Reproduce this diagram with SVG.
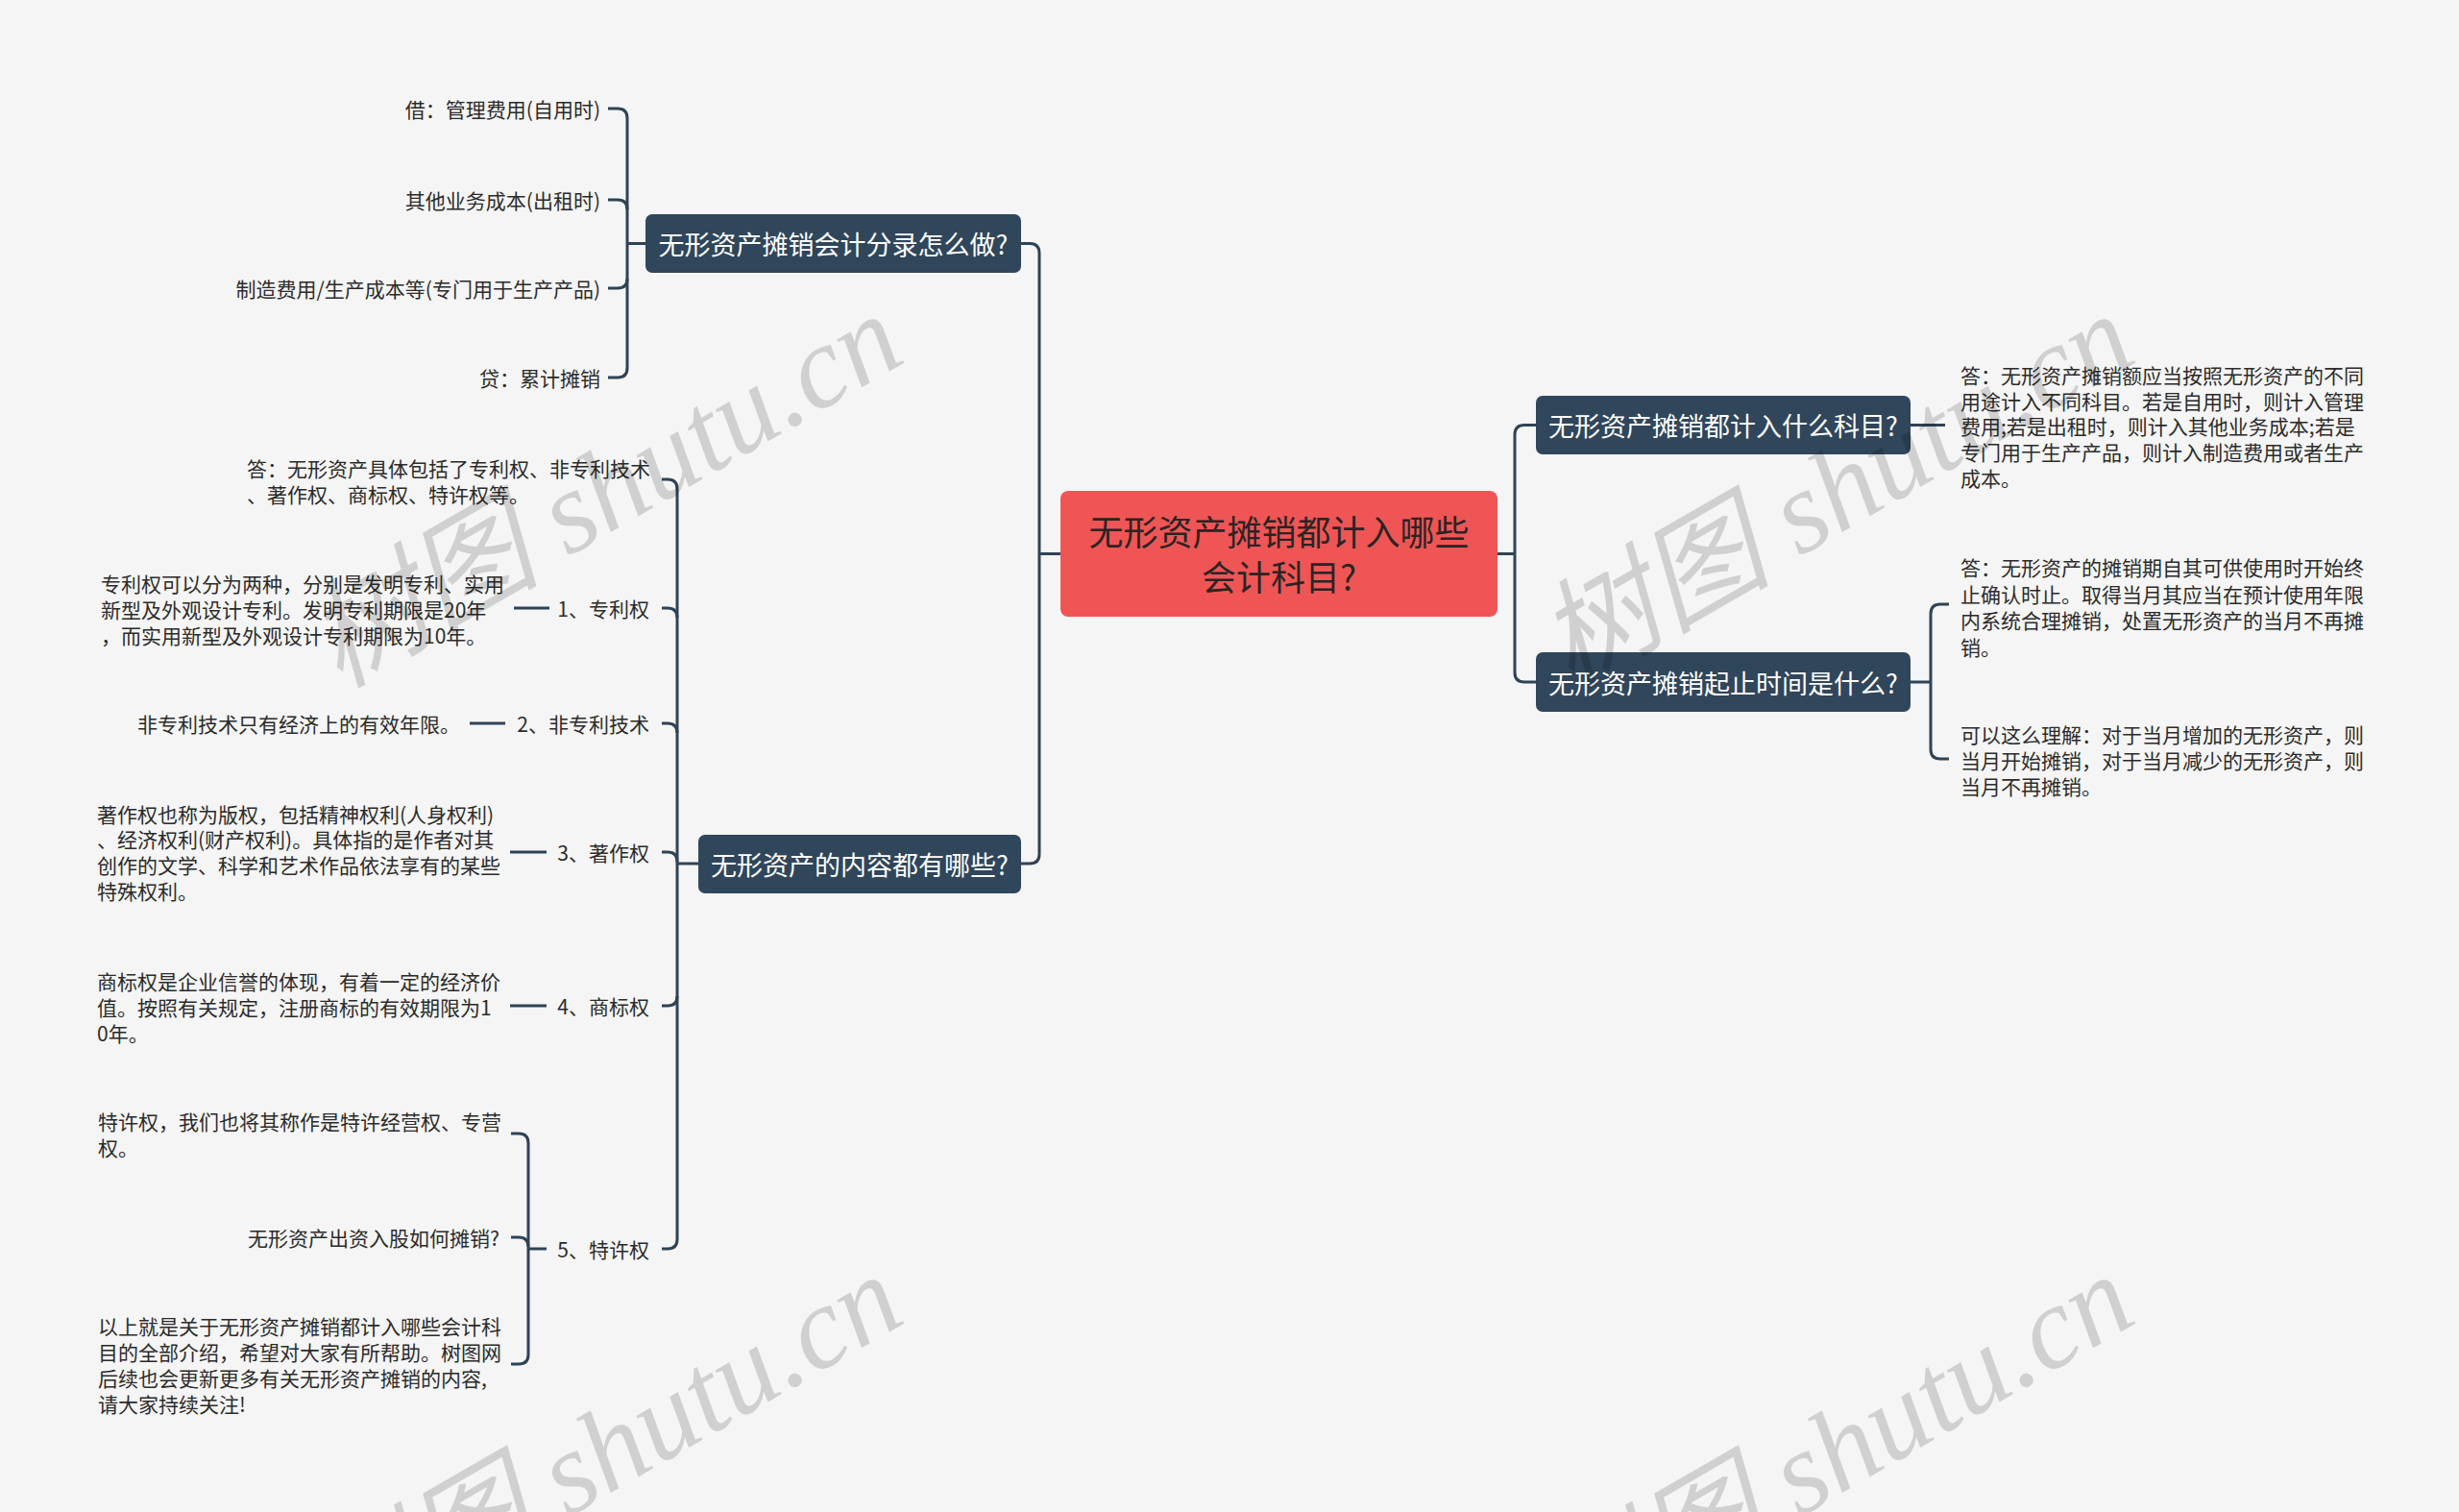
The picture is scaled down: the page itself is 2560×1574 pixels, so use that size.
<svg xmlns="http://www.w3.org/2000/svg" width="2560" height="1574" viewBox="0 0 2560 1574">
<style>
.conn{fill:none;stroke:#2f4356;stroke-width:3}
.leaf{font-family:"Noto Sans CJK SC","Noto Sans",sans-serif;font-size:21px;fill:#2b2b2b;dominant-baseline:central}
.end{text-anchor:end}
.bbox{fill:#30465b}
.btxt{font-family:"Noto Sans CJK SC","Noto Sans",sans-serif;font-size:27px;fill:#ffffff;text-anchor:middle;dominant-baseline:central}
.rbox{fill:#ef5555}
.rtxt{font-family:"Noto Sans CJK SC","Noto Sans",sans-serif;font-size:36px;fill:#2b2424;text-anchor:middle;dominant-baseline:central}
.wm{font-family:"Liberation Serif","Noto Sans CJK SC",serif;font-style:italic;font-size:122px;fill:#000;fill-opacity:0.15;text-anchor:end}
</style>
<rect width="2560" height="1574" fill="#f5f5f5"/>

<g id="connectors">
  <path class="conn" d="M1105 576.5 H1082"/>
  <path class="conn" d="M1063 253.5 H1072 Q1082 253.5 1082 263.5 V889 Q1082 899 1072 899 H1063"/>
  <path class="conn" d="M1559 576.5 H1577"/>
  <path class="conn" d="M1599 442.5 H1587 Q1577 442.5 1577 452.5 V700 Q1577 710 1587 710 H1599"/>
  <path class="conn" d="M672 253.5 H653"/>
  <path class="conn" d="M633 113 H643 Q653 113 653 123 V383 Q653 393 643 393 H633"/>
  <path class="conn" d="M633 208 H643 Q653 208 653 218"/>
  <path class="conn" d="M633 300 H643 Q653 300 653 290"/>
  <path class="conn" d="M727 899 H705"/>
  <path class="conn" d="M689 499 H695 Q705 499 705 509 V1290 Q705 1300 695 1300 H689"/>
  <path class="conn" d="M689 633 H695 Q705 633 705 643"/>
  <path class="conn" d="M689 753 H695 Q705 753 705 763"/>
  <path class="conn" d="M689 887 H695 Q705 887 705 897"/>
  <path class="conn" d="M689 1047 H695 Q705 1047 705 1037"/>
  <path class="conn" d="M572 633 H535"/>
  <path class="conn" d="M526 753 H489"/>
  <path class="conn" d="M569 887 H531"/>
  <path class="conn" d="M569 1047 H531"/>
  <path class="conn" d="M569 1300 H550"/>
  <path class="conn" d="M532 1180 H540 Q550 1180 550 1190 V1410 Q550 1420 540 1420 H532"/>
  <path class="conn" d="M532 1288 H540 Q550 1288 550 1298"/>
  <path class="conn" d="M1989 442.5 H2025"/>
  <path class="conn" d="M1989 710 H2010"/>
  <path class="conn" d="M2029 629 H2020 Q2010 629 2010 639 V780 Q2010 790 2020 790 H2029"/>
</g>

<g id="root">
  <rect class="rbox" x="1104" y="511" width="455" height="131" rx="8"/>
  <text class="rtxt" x="1331.5" y="552">无形资产摊销都计入哪些</text>
  <text class="rtxt" x="1331.5" y="599">会计科目?</text>
</g>

<g id="b1">
  <rect class="bbox" x="672" y="223" width="391" height="61" rx="7"/>
  <text class="btxt" x="867.5" y="253.5">无形资产摊销会计分录怎么做?</text>
</g>
<g id="b2">
  <rect class="bbox" x="727" y="869" width="336" height="61" rx="7"/>
  <text class="btxt" x="895" y="899.5">无形资产的内容都有哪些?</text>
</g>
<g id="b3">
  <rect class="bbox" x="1599" y="412" width="390" height="61" rx="7"/>
  <text class="btxt" x="1794" y="442.5">无形资产摊销都计入什么科目?</text>
</g>
<g id="b4">
  <rect class="bbox" x="1599" y="679" width="390" height="62" rx="7"/>
  <text class="btxt" x="1794" y="710">无形资产摊销起止时间是什么?</text>
</g>

<g id="b1-leaves">
  <text class="leaf end" x="625" y="113">借：管理费用(自用时)</text>
  <text class="leaf end" x="625" y="208">其他业务成本(出租时)</text>
  <text class="leaf end" x="625" y="300">制造费用/生产成本等(专门用于生产产品)</text>
  <text class="leaf end" x="625" y="393">贷：累计摊销</text>
</g>

<g id="b2-answer">
  <text class="leaf" x="257" y="487">答：无形资产具体包括了专利权、非专利技术</text>
  <text class="leaf" x="257" y="514">、著作权、商标权、特许权等。</text>
</g>
<g id="n1">
  <text class="leaf end" x="676" y="633">1、专利权</text>
</g>
<g id="n1-detail">
  <text class="leaf" x="105" y="607">专利权可以分为两种，分别是发明专利、实用</text>
  <text class="leaf" x="105" y="634">新型及外观设计专利。发明专利期限是20年</text>
  <text class="leaf" x="105" y="661">，而实用新型及外观设计专利期限为10年。</text>
</g>
<g id="n2">
  <text class="leaf end" x="676" y="753">2、非专利技术</text>
</g>
<g id="n2-detail">
  <text class="leaf end" x="479" y="753">非专利技术只有经济上的有效年限。</text>
</g>
<g id="n3">
  <text class="leaf end" x="676" y="887">3、著作权</text>
</g>
<g id="n3-detail">
  <text class="leaf" x="101" y="847">著作权也称为版权，包括精神权利(人身权利)</text>
  <text class="leaf" x="101" y="873">、经济权利(财产权利)。具体指的是作者对其</text>
  <text class="leaf" x="101" y="900">创作的文学、科学和艺术作品依法享有的某些</text>
  <text class="leaf" x="101" y="927">特殊权利。</text>
</g>
<g id="n4">
  <text class="leaf end" x="676" y="1047">4、商标权</text>
</g>
<g id="n4-detail">
  <text class="leaf" x="101" y="1021">商标权是企业信誉的体现，有着一定的经济价</text>
  <text class="leaf" x="101" y="1048">值。按照有关规定，注册商标的有效期限为1</text>
  <text class="leaf" x="101" y="1075">0年。</text>
</g>
<g id="n5">
  <text class="leaf end" x="676" y="1300">5、特许权</text>
</g>
<g id="n5-a">
  <text class="leaf" x="102" y="1167">特许权，我们也将其称作是特许经营权、专营</text>
  <text class="leaf" x="102" y="1194">权。</text>
</g>
<g id="n5-b">
  <text class="leaf end" x="520" y="1288">无形资产出资入股如何摊销?</text>
</g>
<g id="n5-c">
  <text class="leaf" x="102" y="1380">以上就是关于无形资产摊销都计入哪些会计科</text>
  <text class="leaf" x="102" y="1407">目的全部介绍，希望对大家有所帮助。树图网</text>
  <text class="leaf" x="102" y="1434">后续也会更新更多有关无形资产摊销的内容,</text>
  <text class="leaf" x="102" y="1461">请大家持续关注!</text>
</g>

<g id="b3-answer">
  <text class="leaf" x="2041" y="390">答：无形资产摊销额应当按照无形资产的不同</text>
  <text class="leaf" x="2041" y="417">用途计入不同科目。若是自用时，则计入管理</text>
  <text class="leaf" x="2041" y="443">费用;若是出租时，则计入其他业务成本;若是</text>
  <text class="leaf" x="2041" y="470">专门用于生产产品，则计入制造费用或者生产</text>
  <text class="leaf" x="2041" y="497">成本。</text>
</g>
<g id="b4-answer1">
  <text class="leaf" x="2041" y="590">答：无形资产的摊销期自其可供使用时开始终</text>
  <text class="leaf" x="2041" y="618">止确认时止。取得当月其应当在预计使用年限</text>
  <text class="leaf" x="2041" y="645">内系统合理摊销，处置无形资产的当月不再摊</text>
  <text class="leaf" x="2041" y="673">销。</text>
</g>
<g id="b4-answer2">
  <text class="leaf" x="2041" y="764">可以这么理解：对于当月增加的无形资产，则</text>
  <text class="leaf" x="2041" y="791">当月开始摊销，对于当月减少的无形资产，则</text>
  <text class="leaf" x="2041" y="818">当月不再摊销。</text>
</g>

<g id="watermark">
  <text class="wm" x="946" y="375" transform="rotate(-30 946 375)">树图 shutu.cn</text>
  <text class="wm" x="2228" y="375" transform="rotate(-30 2228 375)">树图 shutu.cn</text>
  <text class="wm" x="946" y="1375" transform="rotate(-30 946 1375)">树图 shutu.cn</text>
  <text class="wm" x="2228" y="1375" transform="rotate(-30 2228 1375)">树图 shutu.cn</text>
</g>
</svg>
